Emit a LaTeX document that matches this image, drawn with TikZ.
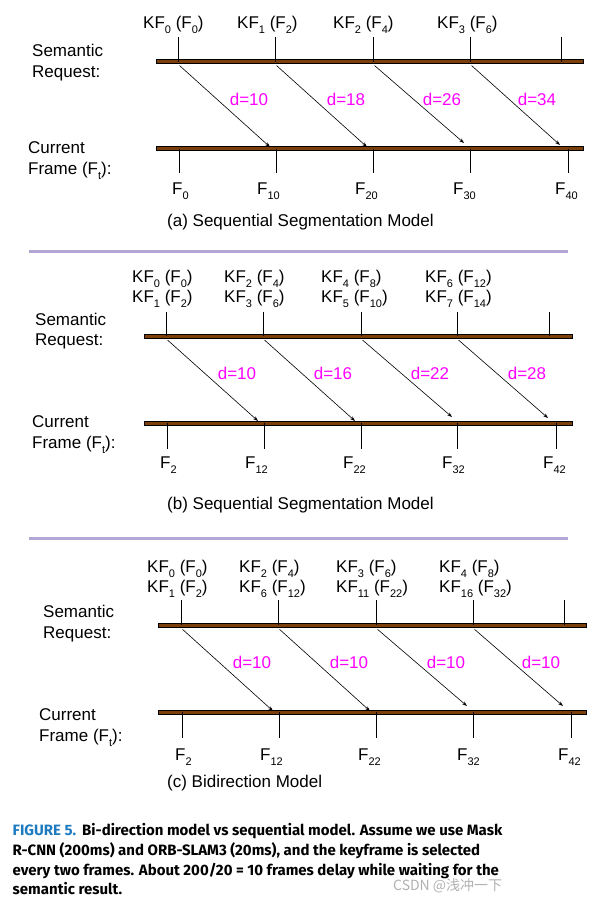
\documentclass[tikz,border=0pt]{standalone}
\usepackage{fontspec}
\setmainfont{Liberation Sans}
\newfontfamily\capfont{Fira Sans}
\newfontfamily\cjkfont{Noto Sans CJK SC}
\usepackage{xcolor}
\usepackage{tikz}
\usetikzlibrary{
  arrows.meta,
  positioning
}
\definecolor{barbrown}{HTML}{7B3F0C}
\definecolor{seplav}{HTML}{B4A7D6}
\definecolor{dmagenta}{HTML}{FF00FF}
\definecolor{figblue}{HTML}{1E7BC0}
\newcommand{\lowidx}[1]{\raisebox{-0.3em}{\fontsize{11}{11}\selectfont #1}}

\begin{document}
\begin{tikzpicture}[
  x=1pt, y=-1pt,
  bar/.style={draw=black, line width=0.4pt, fill=barbrown},
  tickline/.style={line width=0.7pt},
  delay/.style={-{Stealth[length=5pt,width=3.5pt]}, line width=0.6pt},
  side/.style={anchor=base west, inner sep=0pt, font=\fontsize{17}{20}\selectfont},
  kf/.style={anchor=base west, inner sep=0pt, font=\fontsize{17}{20}\selectfont},
  dlabel/.style={anchor=base, inner sep=0pt, text=dmagenta, font=\fontsize{17}{20}\selectfont},
  sep/.style={line width=3pt, draw=seplav},
  capline/.style={anchor=base west, inner sep=0pt, font=\capfont\bfseries\fontsize{15}{20}\selectfont},
]
\fill[white] (0,0) rectangle (615,903);
\useasboundingbox (0,0) rectangle (615,903);

% (a) sequential segmentation
\node[side] (a-sem) at (32,56) {Semantic};
\node[side] (a-req) at (32,77) {Request:};
\node[side] (a-cur) at (28,153) {Current};
\node[side] (a-frm) at (28,174) {Frame (F\lowidx{t}):};

\draw[bar] (156,59.5) rectangle (583,63.5);
\draw[bar] (156,146.5) rectangle (583,150.5);

\foreach \x [count=\i] in {178,275,373,470,561}
  \draw[tickline] (\x,37) -- (\x,61.5) coordinate (a-t\i);
\foreach \x [count=\i] in {179,276,373,470,568}
  \draw[tickline] (\x,148.5) coordinate (a-b\i) -- (\x,173);

\node[kf] (a-kf0) at (143,28) {KF\lowidx{0} (F\lowidx{0})};
\node[kf] (a-kf1) at (237,28) {KF\lowidx{1} (F\lowidx{2})};
\node[kf] (a-kf2) at (333,28) {KF\lowidx{2} (F\lowidx{4})};
\node[kf] (a-kf3) at (437,28) {KF\lowidx{3} (F\lowidx{6})};

\foreach \i/\ex/\ey in {1/270/147, 2/367/147, 3/464/143, 4/560/145}{
  \coordinate (a-e\i) at (\ex,\ey);
  \draw[delay] ([xshift=1.5pt,yshift=-4pt]a-t\i) -- (a-e\i);
}

\node[dlabel] (a-d1) at (249,105) {d=10};
\node[dlabel] (a-d2) at (346,105) {d=18};
\node[dlabel] (a-d3) at (442,105) {d=26};
\node[dlabel] (a-d4) at (537,105) {d=34};

\node[kf] (a-f0) at (172,194) {F\lowidx{0}};
\node[kf] (a-f10) at (257,194) {F\lowidx{10}};
\node[kf] (a-f20) at (355,194) {F\lowidx{20}};
\node[kf] (a-f30) at (453,194) {F\lowidx{30}};
\node[kf] (a-f40) at (555,194) {F\lowidx{40}};

\node[side] (a-title) at (167,226) {(a) Sequential Segmentation Model};

\draw[sep] (29,251.7) -- (568,251.7);

% (b) sequential segmentation, two keyframes per request
\node[side] (b-sem) at (35,325) {Semantic};
\node[side] (b-req) at (35,345) {Request:};
\node[side] (b-cur) at (32,427) {Current};
\node[side] (b-frm) at (32,448) {Frame (F\lowidx{t}):};

\draw[bar] (144,334) rectangle (572,338);
\draw[bar] (144,420.7) rectangle (572,424.7);

\foreach \x [count=\i] in {166,263,361,457,549}
  \draw[tickline] (\x,312) -- (\x,336) coordinate (b-t\i);
\foreach \x [count=\i] in {167,264,361,457,556}
  \draw[tickline] (\x,422.7) coordinate (b-b\i) -- (\x,449);

\node[kf] (b-kf0) at (132,282) {KF\lowidx{0} (F\lowidx{0})};
\node[kf] (b-kf1) at (132,302) {KF\lowidx{1} (F\lowidx{2})};
\node[kf] (b-kf2) at (224,282) {KF\lowidx{2} (F\lowidx{4})};
\node[kf] (b-kf3) at (224,302) {KF\lowidx{3} (F\lowidx{6})};
\node[kf] (b-kf4) at (321,282) {KF\lowidx{4} (F\lowidx{8})};
\node[kf] (b-kf5) at (321,302) {KF\lowidx{5} (F\lowidx{10})};
\node[kf] (b-kf6) at (425,282) {KF\lowidx{6} (F\lowidx{12})};
\node[kf] (b-kf7) at (425,302) {KF\lowidx{7} (F\lowidx{14})};

\foreach \i/\ex/\ey in {1/258/421, 2/355/421, 3/452/417, 4/548/418}{
  \coordinate (b-e\i) at (\ex,\ey);
  \draw[delay] ([xshift=1.5pt,yshift=-4pt]b-t\i) -- (b-e\i);
}

\node[dlabel] (b-d1) at (237,379) {d=10};
\node[dlabel] (b-d2) at (333,379) {d=16};
\node[dlabel] (b-d3) at (430,379) {d=22};
\node[dlabel] (b-d4) at (527,379) {d=28};

\node[kf] (b-f2) at (160,468) {F\lowidx{2}};
\node[kf] (b-f12) at (245,468) {F\lowidx{12}};
\node[kf] (b-f22) at (343,468) {F\lowidx{22}};
\node[kf] (b-f32) at (442,468) {F\lowidx{32}};
\node[kf] (b-f42) at (543,468) {F\lowidx{42}};

\node[side] (b-title) at (167,509) {(b) Sequential Segmentation Model};

\draw[sep] (29,538.7) -- (568,538.7);

% (c) bidirection model
\node[side] (c-sem) at (43,617) {Semantic};
\node[side] (c-req) at (43,638) {Request:};
\node[side] (c-cur) at (39,720) {Current};
\node[side] (c-frm) at (39,741) {Frame (F\lowidx{t}):};

\draw[bar] (158,623.3) rectangle (586,627.3);
\draw[bar] (158,710.3) rectangle (586,714.3);

\foreach \x [count=\i] in {181,278,376,473,564}
  \draw[tickline] (\x,600) -- (\x,625.3) coordinate (c-t\i);
\foreach \x [count=\i] in {182,279,376,473,571}
  \draw[tickline] (\x,712.3) coordinate (c-b\i) -- (\x,738);

\node[kf] (c-kf0) at (147,572) {KF\lowidx{0} (F\lowidx{0})};
\node[kf] (c-kf1) at (147,592) {KF\lowidx{1} (F\lowidx{2})};
\node[kf] (c-kf2) at (239,572) {KF\lowidx{2} (F\lowidx{4})};
\node[kf] (c-kf6) at (239,592) {KF\lowidx{6} (F\lowidx{12})};
\node[kf] (c-kf3) at (336,572) {KF\lowidx{3} (F\lowidx{6})};
\node[kf] (c-kf11) at (336,592) {KF\lowidx{11} (F\lowidx{22})};
\node[kf] (c-kf4) at (439,572) {KF\lowidx{4} (F\lowidx{8})};
\node[kf] (c-kf16) at (439,592) {KF\lowidx{16} (F\lowidx{32})};

\foreach \i/\ex/\ey in {1/273/711, 2/370/711, 3/467/706, 4/563/706}{
  \coordinate (c-e\i) at (\ex,\ey);
  \draw[delay] ([xshift=1.5pt,yshift=-4pt]c-t\i) -- (c-e\i);
}

\node[dlabel] (c-d1) at (252,668) {d=10};
\node[dlabel] (c-d2) at (349,668) {d=10};
\node[dlabel] (c-d3) at (446,668) {d=10};
\node[dlabel] (c-d4) at (541,668) {d=10};

\node[kf] (c-f2) at (175,760) {F\lowidx{2}};
\node[kf] (c-f12) at (260,760) {F\lowidx{12}};
\node[kf] (c-f22) at (358,760) {F\lowidx{22}};
\node[kf] (c-f32) at (457,760) {F\lowidx{32}};
\node[kf] (c-f42) at (558,760) {F\lowidx{42}};

\node[side] (c-title) at (167,787) {(c) Bidirection Model};

% Figure caption
\node[capline] (cap1) at (12.5,835) {\textcolor{figblue}{FIGURE 5.}\hspace{6pt}Bi-direction model vs sequential model. Assume we use Mask};
\node[capline] (cap2) at (12.5,855) {R-CNN (200ms) and ORB-SLAM3 (20ms), and the keyframe is selected};
\node[capline] (cap3) at (12.5,875) {every two frames. About 200/20 = 10 frames delay while waiting for the};
\node[capline] (cap4) at (12.5,894) {semantic result.};
\node[anchor=base west, inner sep=0pt, text=gray!60, font=\cjkfont\fontsize{14}{16}\selectfont] (mark) at (393,890) {CSDN @浅冲一下};

\end{tikzpicture}
\end{document}
